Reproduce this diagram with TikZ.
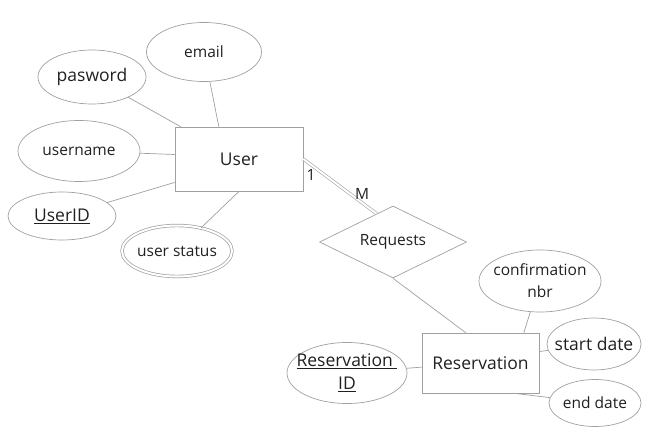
\documentclass[tikz,border=0pt]{standalone}
\usepackage{fontspec}
\setmainfont{Open Sans}
\usetikzlibrary{shapes.geometric}

\definecolor{linegray}{HTML}{A0A0A0}
\definecolor{txtgray}{HTML}{202020}

\begin{document}
\begin{tikzpicture}[
            x = 1pt, y = -1pt, % pixel units, y going down
            line width = 0.7pt, % line style
            every node/.style = {text = txtgray}
        ]

        \tikzstyle{small}=[font = \fontsize{15.5}{22}\selectfont]
        \tikzstyle{big}=[font = \fontsize{17.5}{23}\selectfont]
        \tikzstyle{entity}=[
            draw = linegray,
            rectangle,
            big
        ]
        % ellipse is empty, its text sits in a centred label
        \tikzstyle{attr}=[
            draw = linegray,
            ellipse,
            inner sep = 0pt
        ]
        \tikzstyle{relation}=[
            draw = linegray,
            diamond,
            aspect = 2,
            inner sep = 0pt,
            small
        ]
        \tikzstyle{link}=[draw = linegray]

        \useasboundingbox (0,0) rectangle (648,433);

        % User side
        \node[entity, minimum width = 128, minimum height = 64] (user) at (239,159) {User};
        \node[attr, minimum width = 115, minimum height = 59, label = {[small]center:email}] (email) at (204,52) {};
        \node[attr, minimum width = 108, minimum height = 54, label = {[big]center:pasword}] (pasword) at (92,77) {};
        \node[attr, minimum width = 122, minimum height = 61, label = {[small]center:username}] (username) at (79,151) {};
        \node[attr, minimum width = 108, minimum height = 48, label = {[big]center:\underline{UserID}}] (userid) at (62,216) {};
        \node[attr, double, double distance = 2pt, minimum width = 110, minimum height = 51, label = {[small]center:user status}] (status) at (177,251) {};

        % relationship
        \node[relation, minimum width = 147, minimum height = 72] (requests) at (393,242) {Requests};

        % Reservation side
        \node[entity, minimum width = 117, minimum height = 60] (res) at (480.5,363) {Reservation};
        \node[attr, minimum width = 120, minimum height = 61, label = {[big, align = center]center:{\underline{Reservation\ }\\\underline{ID}}}] (resid) at (347,373) {};
        \node[attr, minimum width = 122, minimum height = 62, label = {[small, align = center]center:{confirmation\\nbr}}] (confirm) at (540,281) {};
        \node[attr, minimum width = 94, minimum height = 52, label = {[big]center:start date}] (start) at (594,344) {};
        \node[attr, minimum width = 92, minimum height = 47, label = {[small]center:end date}] (end) at (595,403) {};

        \draw[link] (pasword) -- (user.151);
        \draw[link] (email) -- (user.122);
        \draw[link] (username) -- (user.176);
        \draw[link] (userid) -- (user.200);
        \draw[link] (status) -- (user.south);

        \draw[link, line width = 0.6pt, double, double distance = 2pt] (user.east) -- (requests.120);
        \node[small] (one) at (311,175) {1};
        \node[small] (many) at (362,194) {M};

        \draw[link] (requests.south) -- (res.116);
        \draw[link] (resid) -- (res.184);
        \draw[link] (confirm) -- (res.35);
        \draw[link] (start) -- (res.11);
        \draw[link] (end) -- (res.318);

  \end{tikzpicture}
\end{document}
